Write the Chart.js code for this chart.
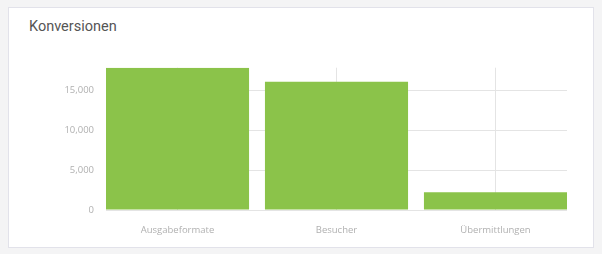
<!DOCTYPE html>
<html>
<head>
<meta charset="utf-8">
<script src="https://cdn.jsdelivr.net/npm/chart.js@4"></script>
<style>
  html, body { margin: 0; padding: 0; background: #f4f4f5; width: 602px; height: 254px; overflow: hidden; }
  #card { position: absolute; left: 8px; top: 7px; width: 584px; height: 239px; background: #fff; border: 1px solid #e2e2ea; }
  #title { position: absolute; left: 29px; top: 18px; font-family: Roboto, "Liberation Sans", sans-serif; font-size: 14.5px; color: #555; white-space: nowrap; }
  #wrap { position: absolute; left: 30px; top: 50px; width: 540px; height: 190px; }
</style>
</head>
<body>
<div id="card"></div>
<div id="title">Konversionen</div>
<div id="wrap"><canvas id="c"></canvas></div>
<script>
const categories = ["Ausgabeformate", "Besucher", "Übermittlungen"];
const conversions = [17900, 16130, 2230];
const yTickValues = [0, 5000, 10000, 15000];

const points = categories.map((c, i) => ({ x: i, y: conversions[i] }));
const tickFont = { family: "'Open Sans', sans-serif", size: 9.5 };

new Chart(document.getElementById('c'), {
  type: 'bar',
  data: {
    datasets: [{
      data: points,
      backgroundColor: '#8bc34a',
      borderWidth: 0,
      barPercentage: 0.9,
      categoryPercentage: 1.0
    }]
  },
  options: {
    responsive: true,
    maintainAspectRatio: false,
    animation: false,
    layout: { padding: { top: 6, right: 3, left: 0, bottom: 0 } },
    plugins: { legend: { display: false }, tooltip: { enabled: false } },
    scales: {
      x: {
        type: 'linear',
        offset: false,
        min: -0.4497,
        max: categories.length - 1 + 0.4497,
        grid: { offset: false, color: '#e4e4e4', drawTicks: false },
        border: { display: false },
        ticks: {
          stepSize: 1,
          includeBounds: false,
          maxRotation: 0,
          autoSkip: false,
          padding: 15,
          color: '#b0b0b0',
          font: tickFont,
          callback: (v) => categories[v] !== undefined ? categories[v] : ''
        },
        afterFit: (s) => { s.height = 30; }
      },
      y: {
        min: 0,
        max: Math.max(...conversions),
        grid: { color: '#e4e4e4', drawTicks: false },
        border: { display: false },
        ticks: {
          padding: 12,
          color: '#b0b0b0',
          font: tickFont,
          callback: (v) => Number(v).toLocaleString('en-US')
        },
        afterBuildTicks: (s) => { s.ticks = yTickValues.map(v => ({ value: v })); },
        afterFit: (s) => { s.width = 76; }
      }
    }
  }
});
</script>
</body>
</html>
